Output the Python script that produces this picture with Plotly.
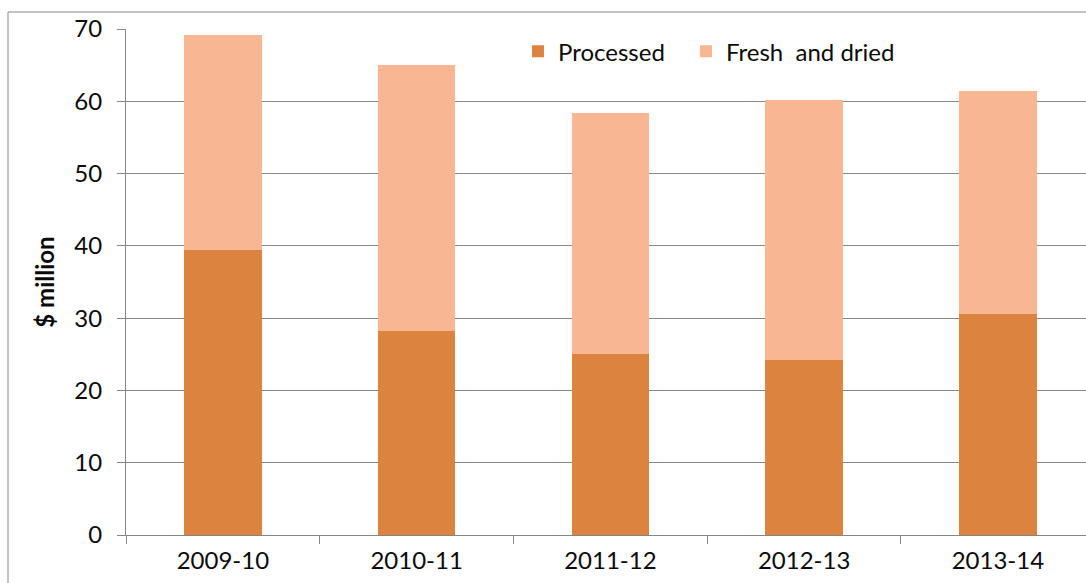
import plotly.graph_objects as go

years = ["2009-10", "2010-11", "2011-12", "2012-13", "2013-14"]
processed = [39.4, 28.2, 25.0, 24.2, 30.6]
fresh_dried = [29.8, 36.8, 33.4, 36.0, 30.8]
y_ticks = [0, 10, 20, 30, 40, 50, 60, 70]

FONT = "Lato, 'Open Sans', sans-serif"
GRID = "#868686"
FS = 24

fig = go.Figure()
fig.add_trace(go.Bar(x=years, y=processed, name="Processed", legend="legend",
                     marker=dict(color="#DC843F", line=dict(width=0)), width=0.4))
fig.add_trace(go.Bar(x=years, y=fresh_dried, name="Fresh  and dried", legend="legend2",
                     marker=dict(color="#F9B692", line=dict(width=0)), width=0.4))

fig.update_layout(
    width=1086, height=583,
    margin=dict(l=126, r=0, t=29, b=48),
    barmode="stack",
    paper_bgcolor="white", plot_bgcolor="white",
    font=dict(family=FONT, size=FS, color="#0a0a0a"),
    showlegend=True,
    legend=dict(orientation="h", x=0.4083, y=0.955, xanchor="left", yanchor="middle",
                font=dict(size=FS), bgcolor="rgba(0,0,0,0)"),
    legend2=dict(orientation="h", x=0.5833, y=0.955, xanchor="left", yanchor="middle",
                 font=dict(size=FS), bgcolor="rgba(0,0,0,0)"),
    xaxis=dict(type="category", range=[-0.5, 4.455], showgrid=False, showline=True,
               linecolor=GRID, linewidth=1,
               ticks="outside", ticklen=8, tickcolor=GRID, tickson="boundaries",
               ticklabelstandoff=4, tickfont=dict(size=FS), zeroline=False),
    yaxis=dict(range=[0, 70], tickvals=y_ticks, showgrid=True, gridcolor=GRID, gridwidth=1,
               showline=True, linecolor=GRID, linewidth=1, ticks="outside", ticklen=8,
               tickcolor=GRID, ticklabelstandoff=10, tickfont=dict(size=FS), zeroline=False,
               title=dict(text="<b>$ million</b>", font=dict(size=FS), standoff=12)),
    shapes=[dict(type="rect", xref="paper", yref="paper",
                 x0=(8 - 126) / 960, x1=1.05, y0=-0.3, y1=(535 - 12) / 506,
                 line=dict(color=GRID, width=1), fillcolor="rgba(0,0,0,0)", layer="below")],
)

fig.write_html("out.html", config={"displayModeBar": False},
               post_script="document.body.style.margin='0px';")
